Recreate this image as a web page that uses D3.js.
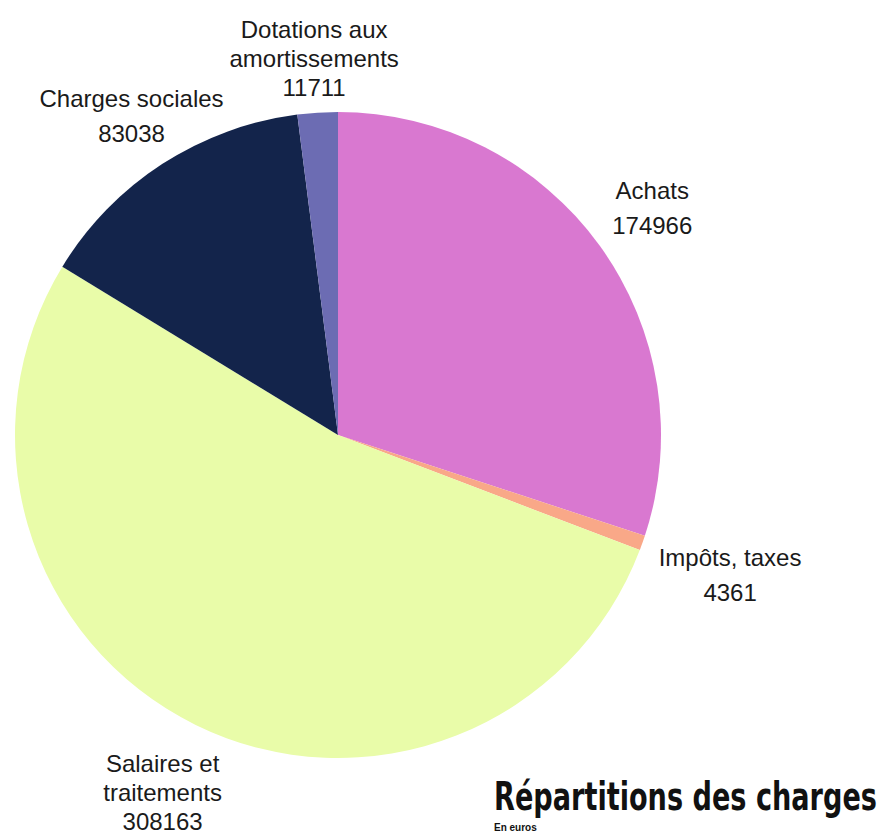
<!DOCTYPE html>
<html>
<head>
<meta charset="utf-8">
<script src="https://cdn.jsdelivr.net/npm/d3@7"></script>
<style>
  body { margin: 0; background: #fff; }
  svg text { font-family: "Liberation Sans", "DejaVu Sans", sans-serif; fill: #1a1a1a; }
</style>
</head>
<body>
<svg id="chart" width="881" height="834"></svg>
<script>
// chart data
const categories = ['Achats', 'Impôts, taxes', 'Salaires et traitements', 'Charges sociales', 'Dotations aux amortissements']
const values = [174966, 4361, 308163, 83038, 11711]
const labelLines = [
  ['Achats'],
  ['Impôts, taxes'],
  ['Salaires et', 'traitements'],
  ['Charges sociales'],
  ['Dotations aux', 'amortissements']
]
const colors = ['#d978d0', '#f9a888', '#e9fca9', '#13244b', '#6c6cb3']

// layout: distance of each label block from the pie centre
const labelRadius = [388, 416, 398, 380, 378]

var width = 881,
  height = 834,
  cx = 338,
  cy = 435,
  radius = 323

var svg = d3.select('#chart')

var color = d3.scaleOrdinal().domain(categories).range(colors)

var pie = d3.pie().sort(null).value(function(d, i) { return values[i] })

var arc = d3.arc().innerRadius(0).outerRadius(radius)

var arcs = pie(categories)

var g = svg.append('g').attr('transform', 'translate(' + cx + ',' + cy + ')')

g.selectAll('path')
  .data(arcs)
  .enter()
  .append('path')
  .attr('d', arc)
  .style('fill', function(d) { return color(d.data) })

var labels = g.selectAll('g.label')
  .data(arcs)
  .enter()
  .append('g')
  .attr('class', 'label')
  .attr('transform', function(d, i) {
    var r = labelRadius[i]
    var c = d3.arc().innerRadius(r).outerRadius(r).centroid(d)
    return 'translate(' + c[0] + ',' + c[1] + ')'
  })

labels.each(function(d, i) {
  var lines = labelLines[i].concat([String(values[i])])
  var lineH = lines.length > 2 ? 29 : 35
  var top = -(lines.length - 1) * lineH / 2
  var t = d3.select(this)
  lines.forEach(function(s, j) {
    t.append('text')
      .attr('text-anchor', 'middle')
      .attr('y', top + j * lineH + 9)
      .style('font-size', '24px')
      .text(s)
  })
})

// title: fit to width, then stretch vertically like the condensed original
var titleW = 383,
  titleCap = 28
var titleG = svg.append('g')
var title = titleG.append('text')
  .attr('x', 0)
  .attr('y', 0)
  .style('font-family', '"Liberation Sans Narrow", "DejaVu Sans Condensed", sans-serif')
  .style('font-stretch', 'condensed')
  .style('font-weight', 'bold')
  .style('font-size', '30px')
  .style('fill', '#111')
  .text('Répartitions des charges')
var w0 = title.node().getComputedTextLength()
var fs = 30 * titleW / w0
title.style('font-size', fs + 'px')
var sy = titleCap / (fs * 0.73)
titleG.attr('transform', 'translate(494,810) scale(1,' + sy + ')')

svg.append('text')
  .attr('x', 494)
  .attr('y', 831)
  .style('font-weight', 'bold')
  .style('font-size', '10px')
  .style('fill', '#111')
  .text('En euros')
</script>
</body>
</html>
